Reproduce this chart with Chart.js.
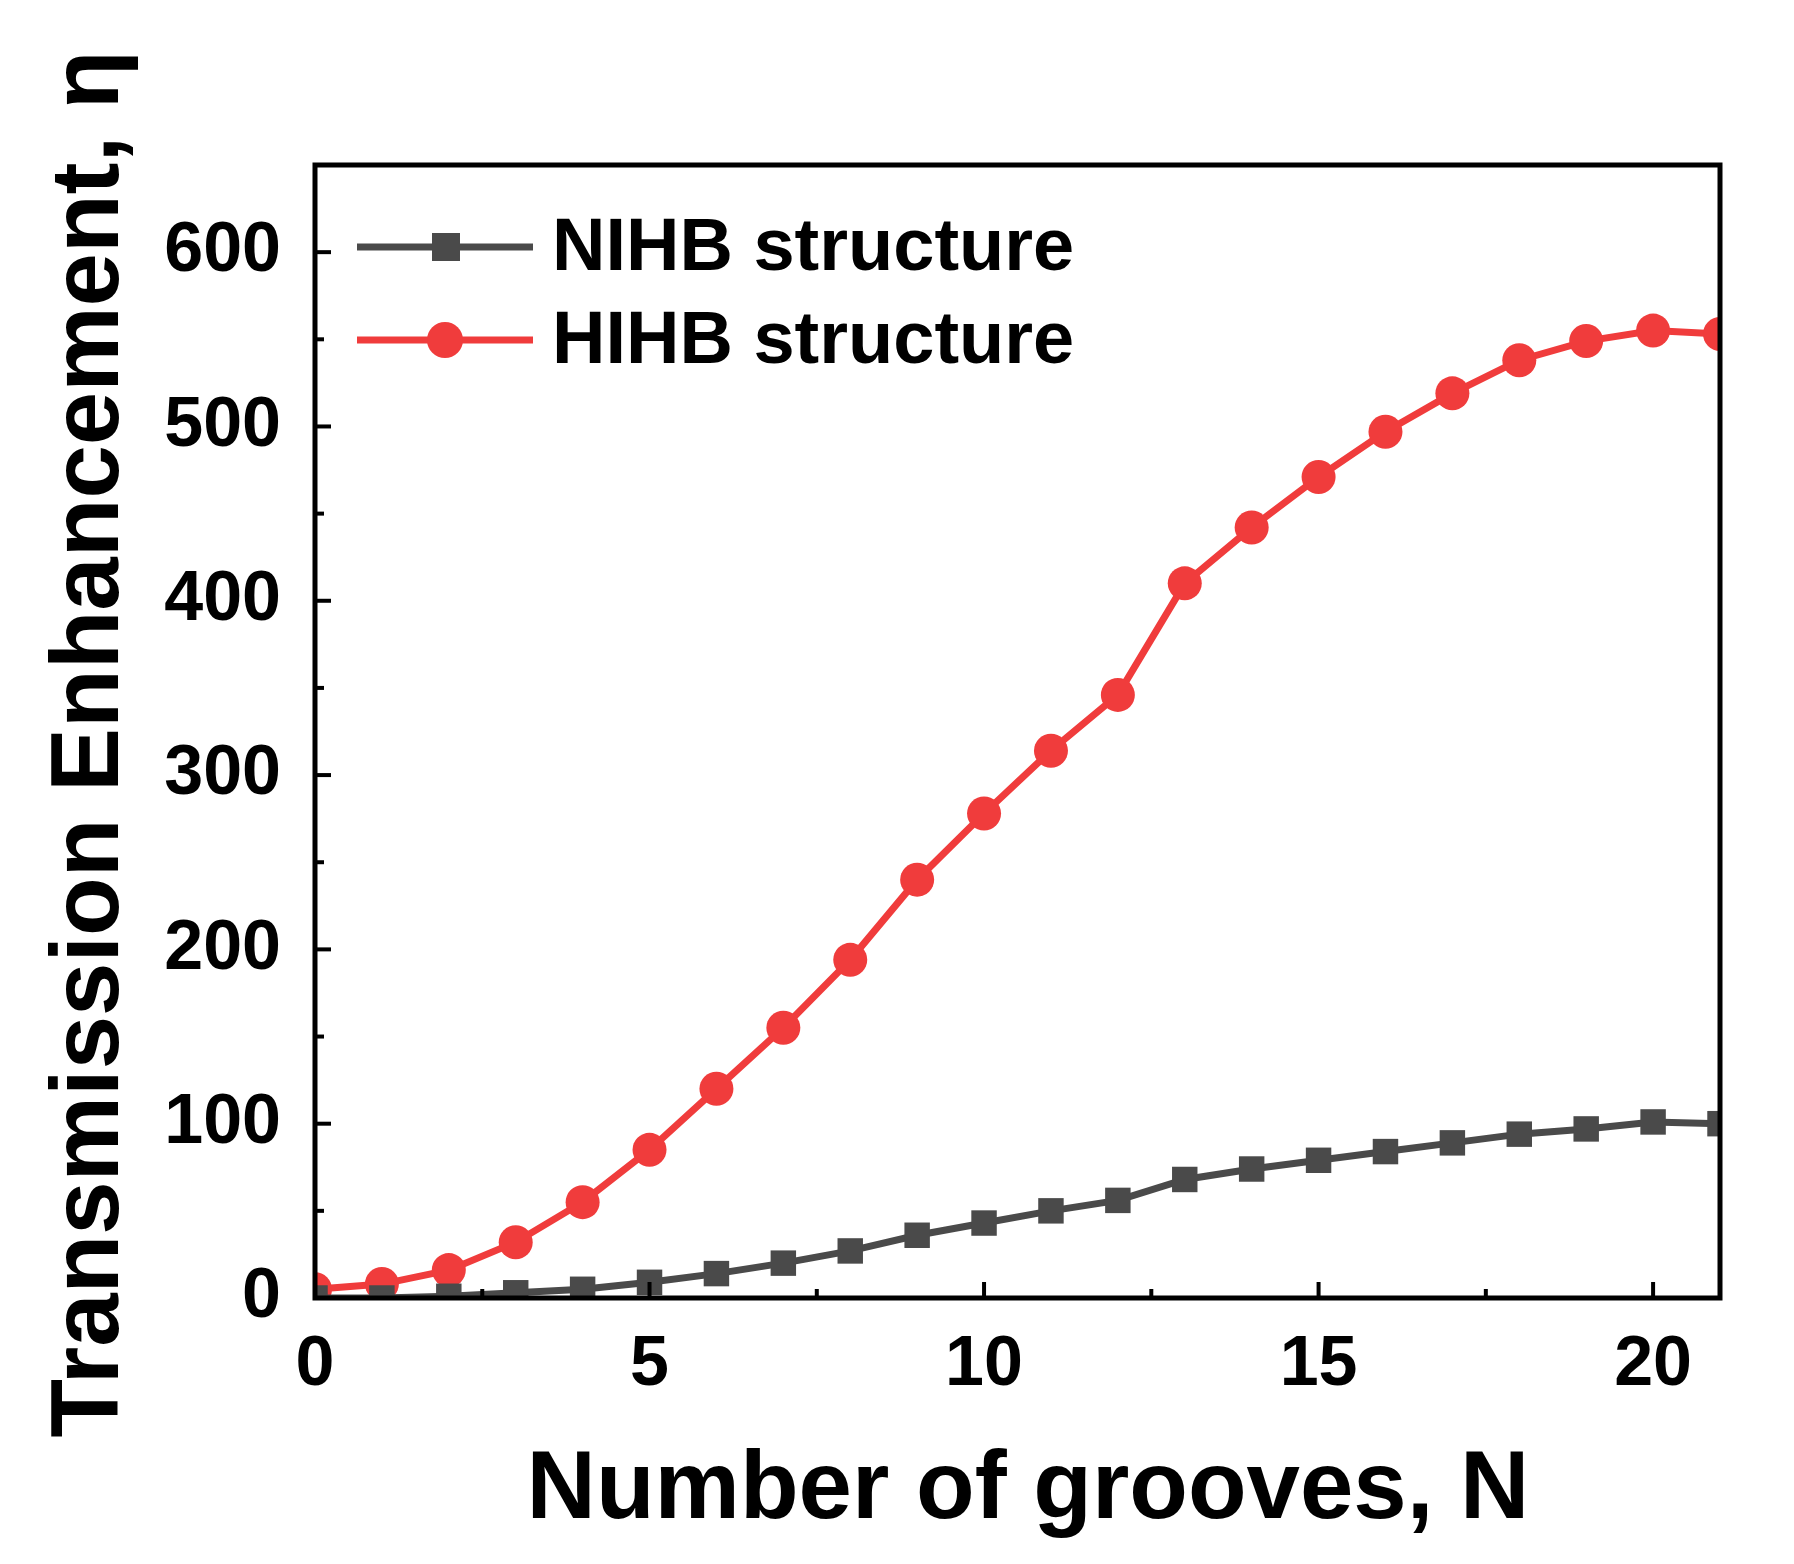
<!DOCTYPE html>
<html>
<head>
<meta charset="utf-8">
<script src="https://cdn.jsdelivr.net/npm/chart.js@4/dist/chart.umd.min.js"></script>
<style>
  body { margin: 0; background: #fff; }
  #wrap { width: 1794px; height: 1564px; }
</style>
</head>
<body>
<div id="wrap"><canvas id="chart" width="1794" height="1564"></canvas></div>
<script>
// grooves N
const grooves = [0, 1, 2, 3, 4, 5, 6, 7, 8, 9, 10, 11, 12, 13, 14, 15, 16, 17, 18, 19, 20, 21];
const nihb = [0, 0, 1, 3, 5, 9, 14, 20, 27, 36, 43, 50, 56, 68, 74, 79, 84, 89, 94, 97, 101, 100];
const hihb = [5, 8, 16, 32, 55, 85, 120, 155, 194, 240, 278, 314, 346, 410, 442, 471, 497, 519, 538, 549, 555, 553];
const xTicks = [0, 5, 10, 15, 20];
const yTicks = [0, 100, 200, 300, 400, 500, 600];
const legendLabels = ['NIHB structure', 'HIHB structure'];

const FONT = '"Liberation Sans", Arial, sans-serif';
const GRAY = '#4a4a4a';
const RED = '#f03c3c';

const framePlugin = {
    id: 'frame',
    afterDatasetsDraw(chart) {
        const c = chart.ctx;
        const a = chart.chartArea;
        const xs = chart.scales.x, ys = chart.scales.y;
        c.save();
        c.strokeStyle = '#000';
        c.lineWidth = 5;
        c.strokeRect(a.left, a.top, a.right - a.left, a.bottom - a.top);
        // inward ticks
        c.lineWidth = 4;
        for (let v = 0; v <= 21; v += 2.5) {
            const px = xs.getPixelForValue(v);
            const len = (v % 5 === 0) ? 16 : 9;
            c.beginPath(); c.moveTo(px, a.bottom); c.lineTo(px, a.bottom - len); c.stroke();
        }
        for (let v = 0; v <= 650; v += 50) {
            const py = ys.getPixelForValue(v);
            const len = (v % 100 === 0) ? 16 : 9;
            c.beginPath(); c.moveTo(a.left, py); c.lineTo(a.left + len, py); c.stroke();
        }
        // legend
        const items = [
            { label: legendLabels[0], color: GRAY, style: 'rect', y: 247 },
            { label: legendLabels[1], color: RED, style: 'circle', y: 340 }
        ];
        c.font = 'bold 74px ' + FONT;
        c.textBaseline = 'middle';
        items.forEach(it => {
            c.strokeStyle = it.color; c.fillStyle = it.color; c.lineWidth = 7;
            c.beginPath(); c.moveTo(357, it.y); c.lineTo(533, it.y); c.stroke();
            if (it.style === 'rect') c.fillRect(432, it.y - 14, 28, 28);
            else { c.beginPath(); c.arc(445, it.y, 18, 0, Math.PI * 2); c.fill(); }
            c.fillStyle = '#000';
            c.fillText(it.label, 552, it.y + 3);
        });
        // axis titles
        c.font = 'bold 96px ' + FONT;
        c.textAlign = 'center';
        c.fillText('Number of grooves, N', 1028, 1492);
        c.save();
        c.translate(92, 744);
        c.rotate(-Math.PI / 2);
        c.fillText('Transmission Enhancement, \u03b7', 0, 0);
        c.restore();
        c.restore();
    }
};

new Chart(document.getElementById('chart'), {
    type: 'line',
    data: {
        datasets: [
            {
                data: grooves.map((x, i) => ({ x: x, y: nihb[i] })),
                borderColor: GRAY, backgroundColor: GRAY, borderWidth: 7,
                pointStyle: 'rect', pointRadius: 18, pointBorderWidth: 0
            },
            {
                data: grooves.map((x, i) => ({ x: x, y: hihb[i] })),
                borderColor: RED, backgroundColor: RED, borderWidth: 7,
                pointStyle: 'circle', pointRadius: 17, pointBorderWidth: 0
            }
        ]
    },
    options: {
        responsive: false,
        animation: false,
        layout: { padding: { top: 165, right: 74, left: 0, bottom: 0 } },
        plugins: { legend: { display: false }, tooltip: { enabled: false } },
        scales: {
            x: {
                type: 'linear', min: 0, max: 21,
                afterFit(s) { s.height = 266; },
                afterBuildTicks(s) { s.ticks = xTicks.map(v => ({ value: v })); },
                grid: { display: false },
                border: { display: false },
                ticks: { padding: 18, color: '#000', font: { family: FONT, size: 70, weight: 'bold' } }
            },
            y: {
                type: 'linear', min: 0, max: 650,
                afterFit(s) { s.width = 315; },
                afterBuildTicks(s) { s.ticks = yTicks.map(v => ({ value: v })); },
                grid: { display: false },
                border: { display: false },
                ticks: { padding: 26, color: '#000', font: { family: FONT, size: 70, weight: 'bold' } }
            }
        }
    },
    plugins: [framePlugin]
});
</script>
</body>
</html>
